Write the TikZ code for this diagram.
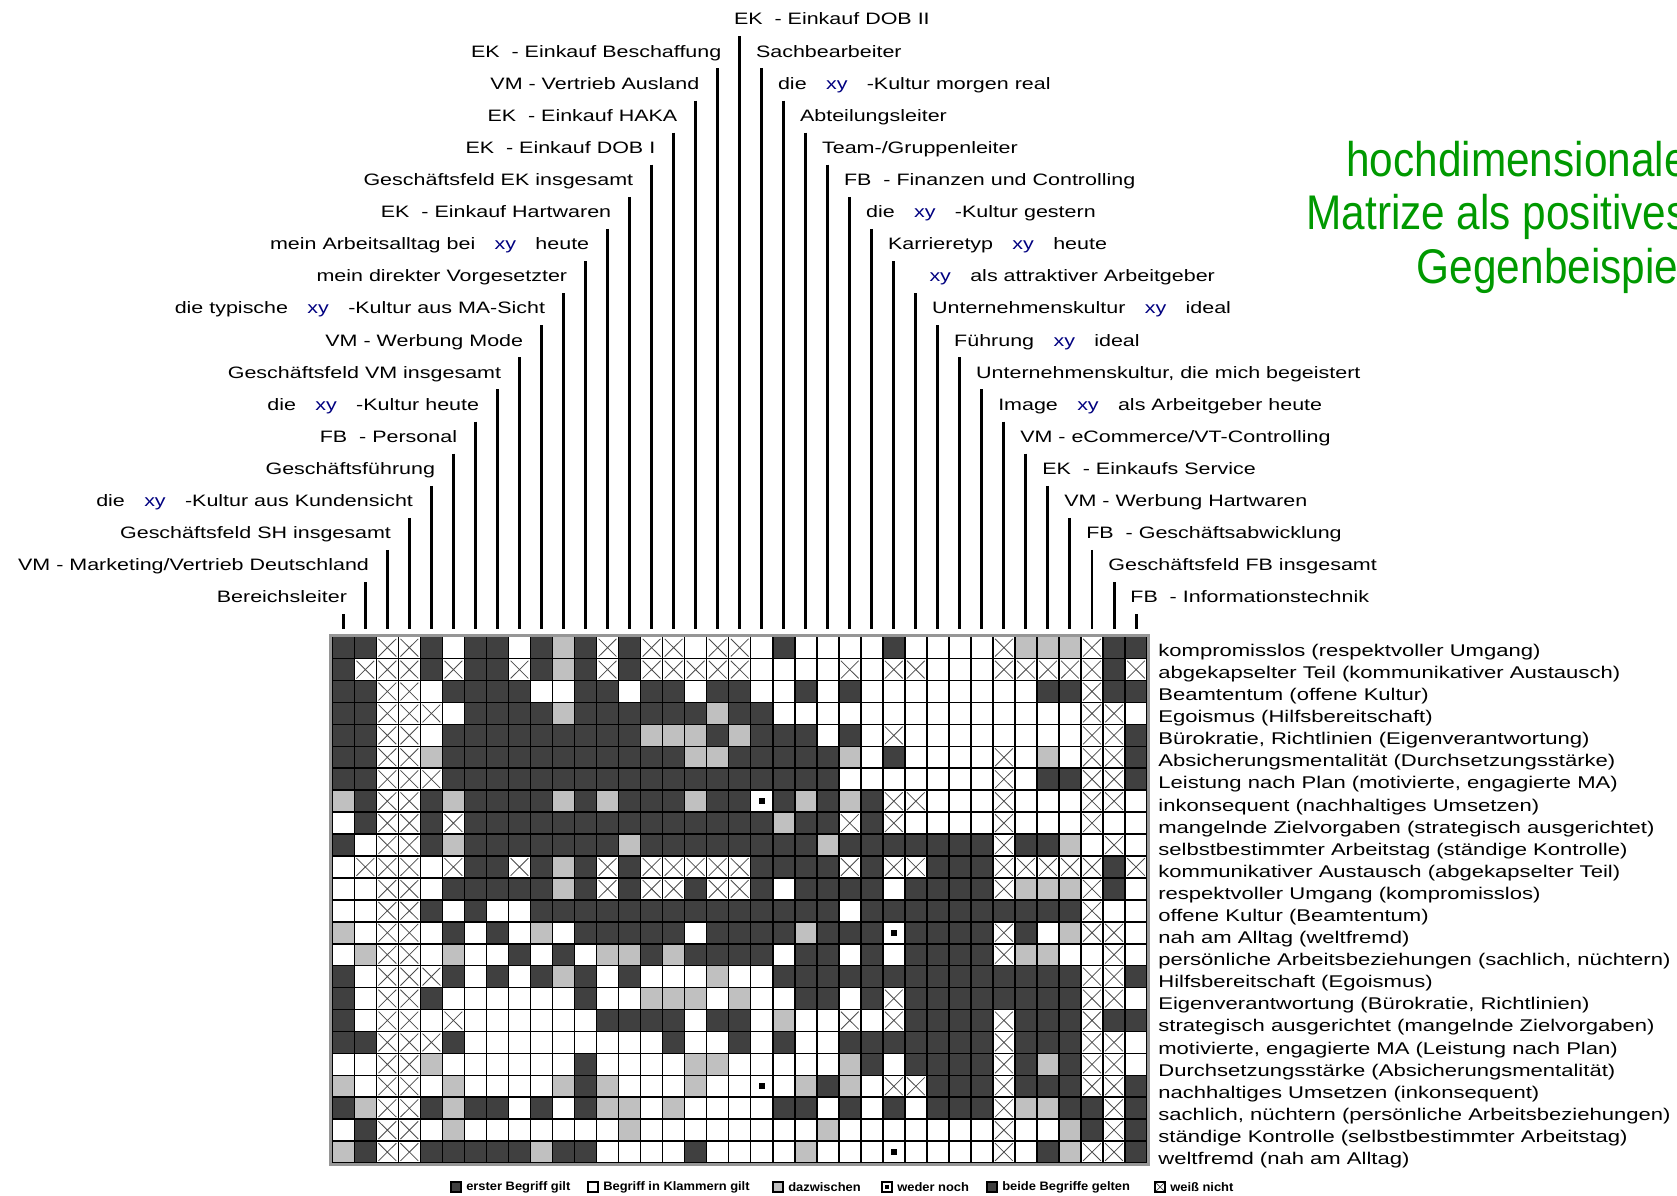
\documentclass[tikz,border=0pt]{standalone}
\usepackage{fontspec}
\setmainfont{Liberation Sans}[FakeStretch=1.3]
\newfontfamily\titlefont{Liberation Sans}[FakeStretch=0.87]
\newfontfamily\legendfont{Liberation Sans}[FakeStretch=1.05]
\usepackage{xcolor}
\usepackage{tikz}
\usetikzlibrary{positioning}

\definecolor{cellDark}{RGB}{64,64,64}
\definecolor{cellGray}{RGB}{192,192,192}
\definecolor{xyBlue}{RGB}{0,0,128}
\definecolor{titleGreen}{RGB}{0,153,0}
\definecolor{frameGray}{RGB}{150,150,150}

\newcommand{\xyco}{\hspace{11pt}\textcolor{xyBlue}{xy}\hspace{11pt}}

\begin{document}
\begin{tikzpicture}[
    x=0.02cm, y=-0.02cm,
    cellbase/.style={rectangle, draw=black, line width=0.9pt, minimum width=0.4404cm, minimum height=0.4386cm, inner sep=0, outer sep=0},
    cellD/.style={cellbase, fill=cellDark},
    cellW/.style={cellbase, fill=white},
    cellG/.style={cellbase, fill=cellGray},
    cellX/.style={cellbase, fill=white, path picture={
        \draw[black!70, line width=0.45pt]
          ([shift={(1.2pt,1.2pt)}]path picture bounding box.south west) -- ([shift={(-1.2pt,-1.2pt)}]path picture bounding box.north east)
          ([shift={(1.2pt,-1.2pt)}]path picture bounding box.north west) -- ([shift={(-1.2pt,1.2pt)}]path picture bounding box.south east);}},
    cellN/.style={cellbase, fill=white, path picture={
        \fill[black] ([shift={(-1.6pt,-1.6pt)}]path picture bounding box.center) rectangle ([shift={(1.6pt,1.6pt)}]path picture bounding box.center);}},
    frame/.style={draw=frameGray, line width=1.7pt},
    stem/.style={line width=1.7pt},
    toplab/.style={inner sep=0, text depth=0pt, font=\fontsize{9.4}{11}\selectfont},
    rowlab/.style={inner sep=0, anchor=west, text height=7pt, text depth=2pt, font=\fontsize{9.65}{11}\selectfont},
    legicon/.style={rectangle, draw=black, line width=0.6pt, minimum size=0.2cm, inner sep=0},
    legtext/.style={inner sep=0, font=\legendfont\bfseries\fontsize{7}{8}\selectfont},
    title/.style={anchor=base east, inner sep=0, text=titleGreen, font=\titlefont\fontsize{27.7}{30}\selectfont},
]

\useasboundingbox (0,0) rectangle (1677,1196);
\clip (0,0) rectangle (1677,1196);
\fill[white] (0,0) rectangle (1677,1196);

% Matrix (D = erster Begriff, W = Begriff in Klammern, G = dazwischen, N = weder noch, X = weiss nicht)
\foreach \cells [count=\i] in {
  {D,D,X,X,D,W,D,D,W,D,G,D,X,D,X,X,W,X,X,W,D,W,W,W,W,D,W,W,W,W,X,G,G,G,X,D,D},
  {D,X,X,X,D,X,D,D,X,D,G,D,X,D,X,X,X,X,X,W,W,W,W,X,W,X,X,W,W,W,X,X,X,X,X,D,X},
  {D,D,X,X,W,D,D,D,D,W,W,D,D,W,D,D,W,D,D,W,W,D,W,D,W,W,W,W,W,W,W,W,D,D,X,D,D},
  {D,D,X,X,X,W,D,D,D,D,G,D,D,D,D,D,D,G,D,D,W,W,W,W,W,W,W,W,W,W,W,W,W,W,X,X,W},
  {D,D,X,X,W,D,D,D,D,D,D,D,D,D,G,G,G,D,G,D,D,D,W,D,W,X,W,W,W,W,W,W,W,W,X,X,D},
  {D,D,X,X,G,D,D,D,D,D,D,D,D,D,D,D,G,G,D,D,D,D,D,G,W,D,W,W,W,W,X,W,G,W,X,X,D},
  {D,D,X,X,X,D,D,D,D,D,D,D,D,D,D,D,D,D,D,D,D,D,D,W,W,W,W,W,W,W,X,W,D,D,X,X,D},
  {G,D,X,X,D,G,D,D,D,D,G,D,G,D,D,D,G,D,D,N,D,G,D,G,D,X,X,W,W,W,X,W,W,W,X,X,W},
  {W,D,X,X,D,X,D,D,D,D,D,D,D,D,D,D,D,D,D,D,G,D,D,X,D,X,W,W,W,W,X,W,W,W,X,W,W},
  {D,W,X,X,D,G,D,D,D,D,D,D,D,G,D,D,D,D,D,D,D,D,G,D,D,D,D,D,D,D,X,D,D,G,W,X,W},
  {W,X,X,X,W,X,D,D,X,D,G,D,X,D,X,X,X,X,X,D,D,D,D,X,D,X,X,D,D,D,X,X,X,X,X,D,X},
  {W,W,X,X,W,D,D,D,D,D,G,D,X,D,X,X,D,X,X,D,W,D,D,D,D,W,D,D,D,D,X,G,G,G,X,D,W},
  {W,W,X,X,D,W,D,W,W,D,D,D,D,D,D,D,D,D,D,D,D,D,D,W,D,D,D,D,D,D,D,D,D,D,X,W,W},
  {G,W,X,X,W,D,W,D,W,G,W,D,D,D,D,D,W,D,D,D,D,G,D,D,D,N,D,D,D,D,X,D,W,G,X,X,W},
  {W,G,X,X,W,G,W,W,D,W,D,W,G,G,D,G,D,D,D,D,W,D,D,W,D,W,D,D,D,D,X,G,G,W,W,X,W},
  {D,W,X,X,X,D,W,D,W,D,G,D,W,D,W,W,W,G,W,W,D,D,D,D,D,D,D,D,D,D,D,D,D,D,X,X,D},
  {D,W,X,X,D,W,W,W,W,W,W,D,W,W,G,G,G,W,G,W,W,D,D,W,D,X,D,D,D,D,D,D,D,D,X,X,W},
  {D,W,X,X,W,X,W,W,W,W,W,W,D,D,D,D,W,D,D,W,G,W,W,X,W,X,D,D,D,D,X,D,D,D,X,D,D},
  {D,D,X,X,X,D,W,W,W,W,W,W,W,W,W,D,W,W,D,W,D,W,W,D,D,D,D,D,D,D,X,D,D,D,X,X,W},
  {W,W,X,X,G,W,W,W,W,W,W,D,W,W,W,W,G,G,W,W,W,W,W,G,D,W,D,D,D,D,X,D,G,D,X,X,W},
  {G,W,X,X,W,G,W,W,W,W,G,D,G,W,W,W,G,W,W,N,W,G,D,G,W,X,X,D,D,D,X,D,D,D,X,X,D},
  {D,G,X,X,D,G,D,D,W,D,W,D,G,G,W,G,W,W,W,W,D,D,W,D,W,D,W,D,D,D,X,G,G,D,D,X,D},
  {W,D,X,X,W,G,W,W,W,W,W,W,W,G,W,W,W,W,W,W,W,W,G,W,W,W,W,W,W,W,X,W,W,G,D,X,D},
  {G,D,X,X,D,D,D,D,D,G,D,D,W,W,W,W,D,W,W,W,W,G,W,W,W,N,W,W,W,W,X,W,D,G,X,X,D}}{
  \foreach \t [count=\j] in \cells {
    \node[cell\t] (m-\i-\j) at ({332.3+(\j-0.5)*22.02},{636.7+(\i-0.5)*21.93}) {};
  }
}
\draw[frame] ([shift={(-0.9pt,0.9pt)}]m-1-1.north west) rectangle ([shift={(0.9pt,-0.9pt)}]m-24-37.south east);

% Column labels, left side
\foreach \lab [count=\j] in {
  {Bereichsleiter},
  {VM - Marketing/Vertrieb Deutschland},
  {Geschäftsfeld SH insgesamt},
  {die\xyco-Kultur aus Kundensicht},
  {Geschäftsführung},
  {FB\ \ - Personal},
  {die\xyco-Kultur heute},
  {Geschäftsfeld VM insgesamt},
  {VM - Werbung Mode},
  {die typische\xyco-Kultur aus MA-Sicht},
  {mein direkter Vorgesetzter},
  {mein Arbeitsalltag bei\xyco{}heute},
  {EK\ \ - Einkauf Hartwaren},
  {Geschäftsfeld EK insgesamt},
  {EK\ \ - Einkauf DOB I},
  {EK\ \ - Einkauf HAKA},
  {VM - Vertrieb Ausland},
  {EK\ \ - Einkauf Beschaffung}}{
  \node[toplab, anchor=base east] (t\j) at ({347.3+(\j-1)*22.02},{25+32.1*(19-\j)}) {\lab};
  \draw[stem] (m-1-\j.north |- t\j.south) ++(0,11) -- ([yshift=4.4pt]m-1-\j.north);
}

% Column labels, right side
\foreach \lab [count=\j from 19] in {
  {EK\ \ - Einkauf DOB II},
  {Sachbearbeiter},
  {die\xyco-Kultur morgen real},
  {Abteilungsleiter},
  {Team-/Gruppenleiter},
  {FB\ \ - Finanzen und Controlling},
  {die\xyco-Kultur gestern},
  {Karrieretyp\xyco{}heute},
  {\xyco{}als attraktiver Arbeitgeber},
  {Unternehmenskultur\xyco{}ideal},
  {Führung\xyco{}ideal},
  {Unternehmenskultur, die mich begeistert},
  {Image\xyco{}als Arbeitgeber heute},
  {VM - eCommerce/VT-Controlling},
  {EK\ \ - Einkaufs Service},
  {VM - Werbung Hartwaren},
  {FB\ \ - Geschäftsabwicklung},
  {Geschäftsfeld FB insgesamt},
  {FB\ \ - Informationstechnik}}{
  \node[toplab, anchor=base west] (t\j) at ({337.3+(\j-1)*22.02},{25+32.1*(\j-19)}) {\lab};
  \draw[stem] (m-1-\j.north |- t\j.south) ++(0,11) -- ([yshift=4.4pt]m-1-\j.north);
}

% Row labels
\foreach \lab [count=\i] in {
  {kompromisslos (respektvoller Umgang)},
  {abgekapselter Teil (kommunikativer Austausch)},
  {Beamtentum (offene Kultur)},
  {Egoismus (Hilfsbereitschaft)},
  {Bürokratie, Richtlinien (Eigenverantwortung)},
  {Absicherungsmentalität (Durchsetzungsstärke)},
  {Leistung nach Plan (motivierte, engagierte MA)},
  {inkonsequent (nachhaltiges Umsetzen)},
  {mangelnde Zielvorgaben (strategisch ausgerichtet)},
  {selbstbestimmter Arbeitstag (ständige Kontrolle)},
  {kommunikativer Austausch (abgekapselter Teil)},
  {respektvoller Umgang (kompromisslos)},
  {offene Kultur (Beamtentum)},
  {nah am Alltag (weltfremd)},
  {persönliche Arbeitsbeziehungen (sachlich, nüchtern)},
  {Hilfsbereitschaft (Egoismus)},
  {Eigenverantwortung (Bürokratie, Richtlinien)},
  {strategisch ausgerichtet (mangelnde Zielvorgaben)},
  {motivierte, engagierte MA (Leistung nach Plan)},
  {Durchsetzungsstärke (Absicherungsmentalität)},
  {nachhaltiges Umsetzen (inkonsequent)},
  {sachlich, nüchtern (persönliche Arbeitsbeziehungen)},
  {ständige Kontrolle (selbstbestimmter Arbeitstag)},
  {weltfremd (nah am Alltag)}}{
  \node[rowlab] (r\i) at (1158,{652+(\i-1)*22.09}) {\lab};
}

% Legend
\node[legicon, fill=cellDark] (k1) at (456,1187) {};
\node[legtext, right=2.5pt of k1] (k1t) {erster Begriff gilt};
\node[legicon, fill=white] (k2) at (593,1187) {};
\node[legtext, right=2.5pt of k2] (k2t) {Begriff in Klammern gilt};
\node[legicon, fill=cellGray] (k3) at (778,1187) {};
\node[legtext, right=2.5pt of k3] (k3t) {dazwischen};
\node[legicon, fill=white, path picture={\fill[black] ([shift={(-1pt,-1pt)}]path picture bounding box.center) rectangle ([shift={(1pt,1pt)}]path picture bounding box.center);}] (k4) at (887,1187) {};
\node[legtext, right=2.5pt of k4] (k4t) {weder noch};
\node[legicon, fill=cellDark] (k5) at (992,1187) {};
\node[legtext, right=2.5pt of k5] (k5t) {beide Begriffe gelten};
\node[legicon, fill=white, path picture={\draw[black!70, line width=0.4pt] (path picture bounding box.south west) -- (path picture bounding box.north east) (path picture bounding box.north west) -- (path picture bounding box.south east);}] (k6) at (1160,1187) {};
\node[legtext, right=2.5pt of k6] (k6t) {weiß nicht};

% Title (cut at the right edge)
\node[title] (g1) at (1688,177) {hochdimensionale};
\node[title] (g2) at (1688,230) {Matrize als positives};
\node[title] (g3) at (1688,283) {Gegenbeispiel};

\end{tikzpicture}
\end{document}
